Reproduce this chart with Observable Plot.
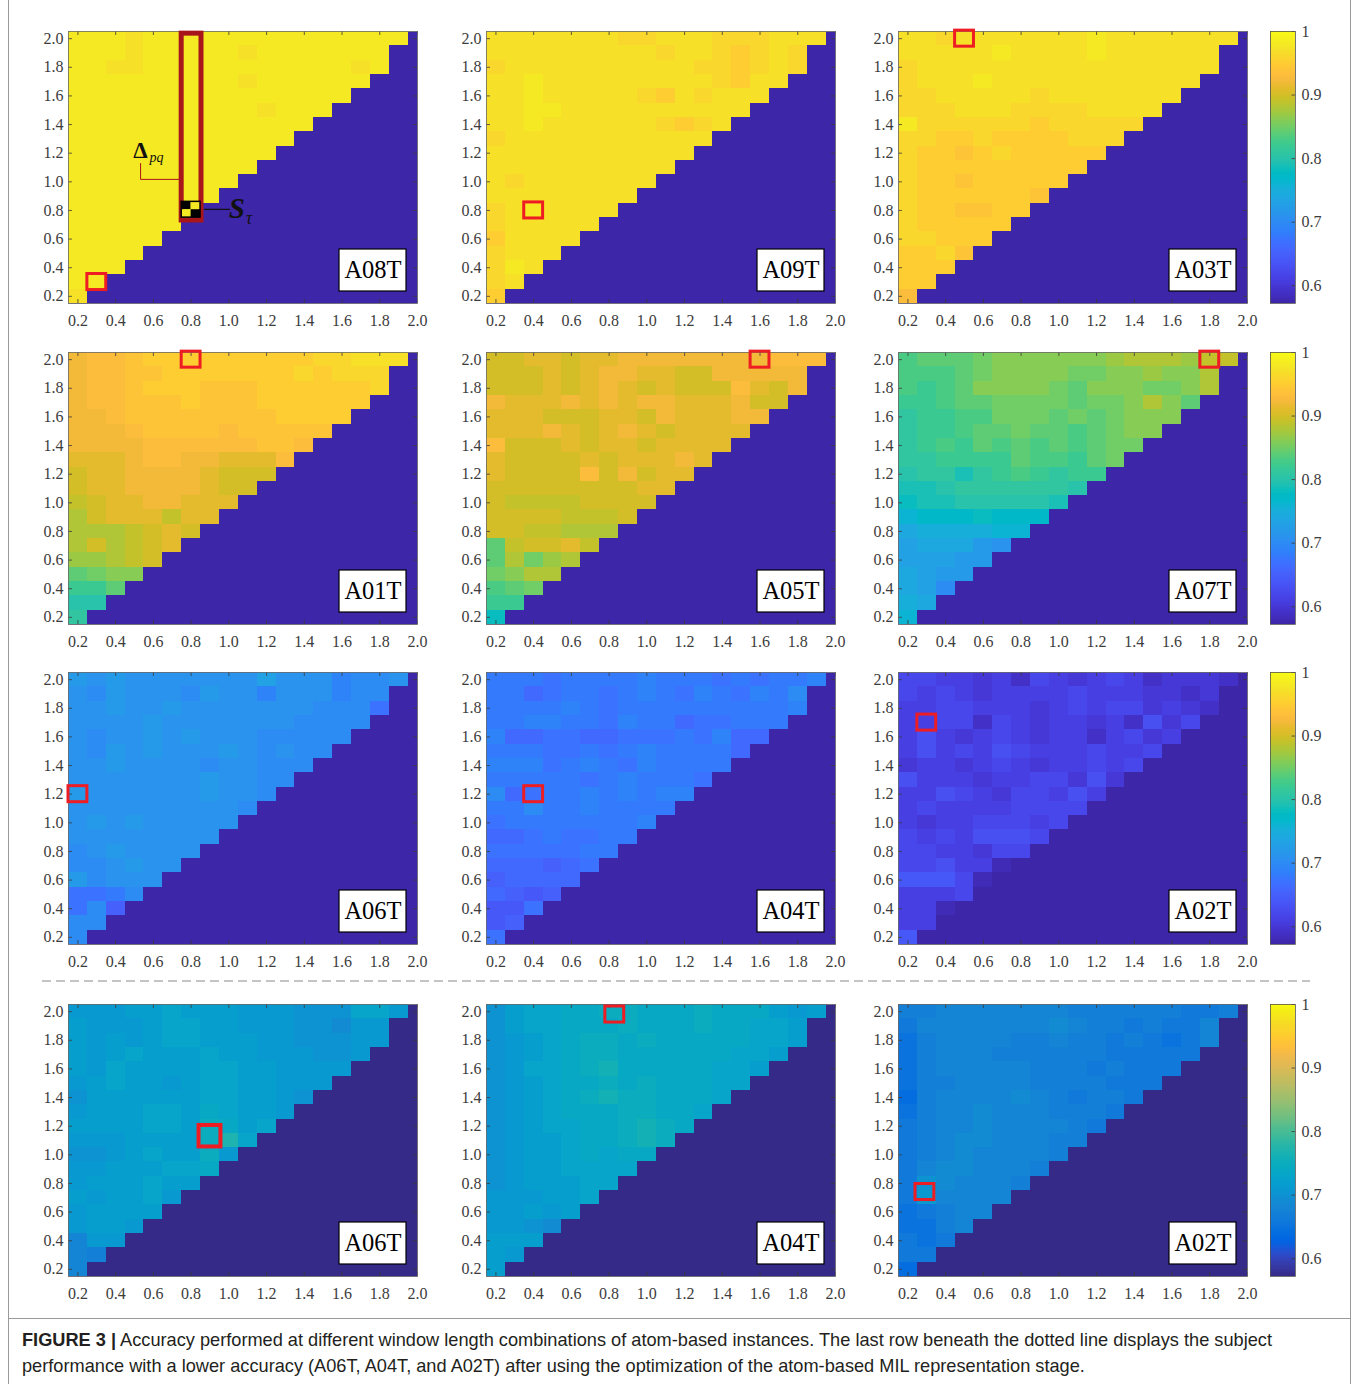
<!DOCTYPE html>
<html><head><meta charset="utf-8">
<script src="https://cdn.jsdelivr.net/npm/d3@7"></script>
<script src="https://cdn.jsdelivr.net/npm/@observablehq/plot@0.6"></script>
<style>
body{margin:0;background:#fff;}
#fig{position:relative;width:1358px;height:1384px;overflow:hidden;background:#fff;}
#frameL{position:absolute;left:8px;top:0;width:0;height:1384px;border-left:1px solid #9a9a9a;}
#frameR{position:absolute;left:1350px;top:0;width:0;height:1384px;border-left:1px solid #9a9a9a;}
#capTop{position:absolute;left:8px;top:1318px;width:1342px;height:0;border-top:1px solid #9a9a9a;}
#cap{position:absolute;left:22px;top:1327px;font-family:"Liberation Sans",Arial,sans-serif;font-size:18.2px;line-height:26px;color:#231f20;white-space:nowrap;}
</style></head><body>
<div id="fig"><div id="frameL"></div><div id="frameR"></div><div id="capTop"></div>
<svg style="position:absolute;left:0;top:0" width="1358" height="1384"><line x1="42" x2="1310" y1="981" y2="981" stroke="#8a8a8a" stroke-width="1.2" stroke-dasharray="9,5"/></svg>
<div id="cap"><b>FIGURE 3 |</b> Accuracy performed at different window length combinations of atom-based instances. The last row beneath the dotted line displays the subject<br>performance with a lower accuracy (A06T, A04T, and A02T) after using the optimization of the atom-based MIL representation stage.</div>
</div>
<script>
// ---- grid (window lengths) ----
const windowP = [0.2,0.3,0.4,0.5,0.6,0.7,0.8,0.9,1.0,1.1,1.2,1.3,1.4,1.5,1.6,1.7,1.8,1.9,2.0];
const windowQ = [2.0,1.9,1.8,1.7,1.6,1.5,1.4,1.3,1.2,1.1,1.0,0.9,0.8,0.7,0.6,0.5,0.4,0.3,0.2];
const axisTicks = [0.2,0.4,0.6,0.8,1.0,1.2,1.4,1.6,1.8,2.0];
const barTicks = [0.6,0.7,0.8,0.9,1];
const panelNames = ["A08T","A09T","A03T","A01T","A05T","A07T","A06T","A04T","A02T","A06T","A04T","A02T"];
const boxP = [0.3,0.4,0.5,0.8,1.6,1.8,0.2,0.4,0.3,0.9,0.83,0.29];
const boxQ = [0.3,0.8,2.0,2.0,2.0,2.0,1.2,1.2,1.7,1.13,1.98,0.74];

// ---- accuracy (%) rows from q=2.0 (top) down to q=0.2 ----
const acc_A08T = [
[98,98,98,97,98,98,98,98,98,98,98,98,98,98,98,98,98,98],
[98,98,98,97,98,98,98,98,98,97,98,98,98,98,98,98,98],
[98,98,97,97,98,98,98,98,98,98,98,98,98,98,98,97,98],
[98,98,98,98,98,98,98,98,98,97,98,98,98,98,98,98],
[98,98,98,98,98,98,98,98,98,98,98,98,98,98,98],
[98,98,98,98,98,98,98,98,98,98,97,98,98,98],
[98,98,98,98,98,98,98,98,98,98,98,98,98],
[98,98,98,98,98,98,98,98,98,98,98,98],
[98,98,98,98,98,98,98,98,98,98,98],
[98,98,98,98,98,98,98,98,98,98],
[98,98,98,98,98,98,98,98,98],
[98,98,98,98,98,98,98,98],
[98,98,98,98,98,98,98],
[98,98,98,98,98,98],
[98,98,98,98,98],
[98,98,98,98],
[98,98,98],
[98,98],
[97]];
const acc_A09T = [
[97,97,97,97,97,97,97,96,96,97,97,97,96,96,96,97,97,97],
[97,97,97,97,97,97,97,97,97,96,97,97,96,95,96,97,96],
[96,97,97,97,97,97,97,97,97,97,97,96,96,95,96,97,96],
[97,97,98,97,97,97,97,97,97,97,97,97,96,95,97,97],
[97,97,98,97,97,97,97,97,96,95,97,96,97,97,97],
[97,97,98,98,97,97,97,97,97,97,97,97,97,97],
[97,97,98,97,97,97,97,97,97,96,95,96,97],
[96,97,97,97,97,97,97,97,97,97,97,97],
[97,97,97,97,97,97,97,97,97,97,97],
[97,97,97,97,97,97,97,97,97,97],
[97,96,97,97,97,97,97,97,97],
[97,97,97,97,97,97,97,97],
[96,97,98,97,97,97,97],
[96,97,97,97,97,97],
[95,97,97,97,97],
[96,97,97,97],
[96,98,97],
[96,97],
[95]];
const acc_A03T = [
[97,97,96,97,97,97,97,97,97,97,98,97,97,97,97,97,97,97],
[97,97,97,97,97,98,97,97,97,97,98,97,97,97,97,97,97],
[96,97,97,97,97,97,97,97,97,97,97,97,97,97,97,97,97],
[96,97,97,97,98,97,97,97,97,97,97,97,97,97,97,97],
[96,96,97,97,97,97,97,96,97,97,97,97,97,97,97],
[96,96,96,97,97,97,96,96,96,96,97,97,97,97],
[98,96,96,96,96,96,96,95,96,96,96,96,96],
[96,96,95,95,96,95,95,95,95,96,96,96],
[96,95,95,94,95,96,95,95,95,95,95],
[96,95,95,95,95,95,95,95,95,95],
[96,95,95,94,95,95,95,95,95],
[96,95,95,95,95,95,95,94],
[96,95,95,94,94,95,95],
[96,95,95,95,95,95],
[96,96,95,95,95],
[95,95,96,94],
[95,95,95],
[95,95],
[93]];
const acc_A01T = [
[92,93,93,94,95,95,95,95,95,95,95,95,95,96,96,97,97,97],
[92,93,93,94,94,95,95,95,95,95,95,95,96,95,96,96,96],
[92,93,93,94,95,95,95,94,94,94,95,95,95,95,95,95,96],
[92,93,93,94,94,94,95,94,94,94,95,95,95,95,95,95],
[92,92,93,94,94,94,94,94,94,94,94,95,95,95,95],
[92,92,92,93,94,94,94,94,93,94,94,94,94,94],
[92,92,92,92,93,93,93,93,93,93,94,94,93],
[91,91,91,92,93,93,92,92,91,91,91,93],
[90,91,91,92,92,92,92,91,90,90,90],
[90,91,91,92,92,92,92,91,90,90],
[89,90,91,91,92,92,91,91,91],
[88,90,91,91,91,89,91,91],
[88,88,88,89,90,91,90],
[88,90,88,89,90,91],
[87,87,88,89,90],
[84,85,86,86],
[82,82,84],
[80,80],
[81]];
const acc_A05T = [
[90,90,91,91,90,91,91,92,92,92,92,92,92,92,92,93,93,93],
[90,90,90,91,90,91,92,92,91,91,90,90,92,92,92,92,92],
[90,90,90,91,90,91,92,91,90,91,90,90,90,93,91,90,92],
[92,91,91,91,92,91,92,91,92,92,91,91,91,92,90,90],
[91,91,91,90,90,90,91,91,90,92,91,91,91,92,92],
[91,91,91,92,91,90,91,92,91,90,91,91,91,91],
[93,90,90,90,91,90,91,91,90,91,91,91,91],
[91,90,90,90,90,91,90,91,91,91,92,91],
[91,90,90,90,90,93,90,92,90,91,91],
[90,90,90,90,90,90,90,90,91,91],
[90,89,89,89,89,90,90,90,90],
[90,90,90,90,89,89,89,90],
[90,90,89,89,88,88,88],
[84,89,90,90,91,89],
[84,88,85,87,88],
[85,86,88,88],
[83,84,85],
[82,82],
[78]];
const acc_A07T = [
[83,84,84,84,85,86,86,86,86,86,86,87,88,88,88,87,89,89],
[83,83,83,84,85,86,86,86,86,85,85,86,86,87,86,86,88],
[83,82,83,84,86,86,86,86,85,84,86,86,86,85,85,86,88],
[82,82,83,84,84,85,85,85,85,84,85,85,86,88,86,84],
[81,82,82,83,83,85,85,85,84,85,84,85,86,86,86],
[81,82,82,83,84,84,85,84,84,83,84,85,86,86],
[81,82,83,82,84,83,84,83,84,83,84,85,85],
[81,81,82,82,82,82,84,83,83,82,84,85],
[80,81,81,79,81,82,83,82,81,82,82],
[79,79,80,81,81,81,81,81,81,80],
[78,79,79,80,80,80,80,80,79],
[76,77,77,77,78,77,77,77],
[74,75,75,75,75,76,76],
[73,74,74,74,72,71],
[73,73,73,72,72],
[74,73,72,72],
[74,73,70],
[75,74],
[76]];
const acc_A06T = [
[72,71,72,71,71,71,71,71,71,71,73,71,71,71,69,70,70,71],
[71,70,72,71,71,71,70,72,71,71,69,71,71,71,69,70,70],
[71,71,72,71,71,72,71,71,71,71,71,71,71,70,70,70,67],
[71,71,71,71,72,71,71,71,71,71,71,71,70,70,70,70],
[71,70,71,71,72,71,72,71,71,71,70,70,70,70,70],
[71,70,72,71,72,71,71,71,72,71,70,71,70,70],
[71,71,72,71,71,71,71,70,71,71,70,70,70],
[71,71,71,71,71,71,71,72,71,71,70,70],
[72,71,71,71,71,71,71,72,71,71,70],
[71,71,71,71,71,71,71,71,71,70],
[71,72,71,72,71,71,71,71,71],
[71,71,71,71,71,71,71,71],
[70,71,72,71,71,71,71],
[70,70,71,72,71,71],
[72,70,71,71,71],
[67,67,68,70],
[67,70,65],
[70,70],
[70]];
const acc_A04T = [
[68,68,68,67,68,68,68,68,69,68,68,68,67,68,67,68,68,69],
[68,68,66,67,68,68,67,68,69,68,67,69,68,67,69,68,70],
[68,68,68,68,69,68,67,68,68,68,68,68,68,68,68,68,69],
[68,68,69,69,68,68,67,69,68,68,66,67,67,68,68,68],
[69,66,66,67,67,66,66,67,67,67,68,67,69,66,66],
[68,68,68,67,67,68,67,68,69,68,68,68,68,66],
[69,69,69,67,68,69,68,67,69,68,68,68,68],
[68,68,68,68,68,67,68,69,68,68,68,67],
[70,66,67,68,68,69,68,69,68,69,69],
[68,68,70,68,68,69,68,68,68,68],
[67,68,68,68,68,68,68,68,69],
[66,66,67,68,67,67,68,68],
[67,67,67,67,67,68,68],
[66,66,66,65,66,67],
[65,66,66,66,66],
[66,65,64,65],
[64,64,67],
[64,65],
[67]];
const acc_A02T = [
[62,62,61,61,60,61,59,62,61,60,61,62,61,59,60,60,60,59],
[62,61,62,61,60,61,61,61,61,62,61,61,61,60,60,59,60],
[61,61,62,62,61,61,61,60,61,62,61,62,62,60,61,60,59],
[61,61,62,62,59,62,61,60,61,61,60,61,59,63,60,62],
[61,63,61,60,61,62,61,60,61,61,59,61,62,60,61],
[61,63,61,62,61,63,62,61,61,61,62,61,61,62],
[60,61,61,60,61,62,61,60,61,61,62,61,62],
[63,61,61,61,60,61,61,62,62,60,63,60],
[61,61,63,62,61,60,62,62,61,63,61],
[61,62,61,61,61,61,62,62,62,62],
[61,60,61,61,62,62,62,61,62],
[62,61,62,61,63,63,63,62],
[62,62,61,61,60,62,62],
[62,62,63,61,61,58],
[64,64,64,62,58],
[61,61,61,62],
[61,61,58],
[61,61],
[64]];
const acc_A06T_opt = [
[71,71,71,72,72,73,72,72,72,71,71,71,70,70,70,73,73,71],
[72,71,71,71,72,73,73,72,72,71,71,71,70,70,69,71,71],
[72,71,72,71,72,73,73,72,72,72,71,71,70,70,70,71,71],
[72,71,72,73,72,72,72,73,72,72,71,71,71,70,70,71],
[72,71,73,72,72,72,72,73,73,72,72,71,71,71,71],
[71,72,73,72,72,71,72,73,73,72,72,71,71,71],
[70,72,72,72,72,72,72,73,73,72,72,71,70],
[71,72,72,72,73,73,72,74,73,72,72,71],
[72,72,72,72,73,73,72,75,74,72,73],
[71,71,71,72,72,72,72,75,77,73],
[70,70,71,72,73,72,72,75,71],
[71,71,72,72,72,73,73,74],
[71,72,72,72,73,72,72],
[72,71,72,72,73,71],
[71,72,72,72,72],
[71,72,72,71],
[68,71,71],
[68,67],
[68]];
const acc_A04T_opt = [
[70,72,73,73,74,74,75,75,74,74,74,75,74,74,74,72,71,72],
[70,72,73,73,74,74,74,75,74,74,74,75,74,74,73,73,72],
[70,71,72,73,74,75,75,74,75,74,74,74,74,74,73,73,72],
[70,71,72,73,74,75,75,74,74,74,74,74,74,73,73,72],
[70,71,73,73,74,75,76,74,74,74,74,74,73,73,72],
[70,71,72,73,74,74,75,74,75,74,74,74,73,73],
[70,71,72,73,74,75,76,75,75,74,74,74,73],
[70,71,72,73,74,74,74,75,75,74,74,73],
[70,71,72,73,73,74,74,75,76,75,74],
[70,71,72,72,73,74,74,75,76,75],
[70,71,72,72,73,74,73,74,74],
[70,71,72,72,73,73,73,73],
[70,71,72,72,72,73,73],
[71,71,71,72,72,73],
[71,71,72,71,72],
[71,71,70,69],
[72,72,72],
[72,71],
[72]];
const acc_A02T_opt = [
[67,67,68,68,68,68,68,68,68,67,67,67,67,67,67,66,66,67],
[66,68,68,68,68,68,68,68,69,68,67,67,66,67,66,66,68],
[65,67,68,68,68,68,67,67,68,67,67,66,67,66,65,66,68],
[65,67,68,68,68,67,67,67,67,67,67,66,66,66,66,66],
[65,67,68,68,68,68,68,67,67,67,66,67,66,66,66],
[65,67,67,68,68,68,68,67,67,67,67,66,66,66],
[64,67,68,68,68,68,69,68,67,66,67,67,66],
[65,67,68,68,69,68,68,68,67,67,67,66],
[66,67,68,68,69,68,68,68,68,67,66],
[66,67,68,69,69,68,68,68,67,67],
[66,67,68,69,68,68,68,68,67],
[66,68,69,69,68,68,68,67],
[66,70,69,68,68,68,67],
[66,71,68,68,68,68],
[65,66,67,68,68],
[65,65,67,68],
[66,65,66],
[66,66],
[64]];
const panelData = [acc_A08T,acc_A09T,acc_A03T,acc_A01T,acc_A05T,acc_A07T,acc_A06T,acc_A04T,acc_A02T,acc_A06T_opt,acc_A04T_opt,acc_A02T_opt];

// ---- A08T annotation (data units) ----
const deltaLeaderP = [0.532,0.532,0.739], deltaLeaderQ = [1.128,1.017,1.017];
const stLeaderP = [0.871,1.004], stLeaderQ = [0.807,0.807];
const colBoxP = [0.75,0.855], colBoxQ = [0.73,2.035];
const checkP = [0.75,0.80,0.85], checkQ = [0.75,0.805,0.86];

// ---- colormaps (MATLAB parula, old & new) ----
const parulaOld = ["#3e26a8","#402ab4","#422ec0","#4332cb","#4537d5","#463cde","#4741e5","#4747eb","#484df0","#4852f4","#4758f8","#465efb","#4563fd","#4269fe","#3e6fff","#3875fe","#327cfc","#2f81fa","#2e87f7","#2d8cf3","#2b91ef","#2796eb","#259be8","#23a0e5","#20a5e3","#1ca9df","#18addb","#12b1d6","#08b5d0","#01b8ca","#02bac3","#0bbdbd","#19bfb6","#24c1ae","#2cc4a7","#31c69f","#37c897","#3fca8e","#4acb84","#57cc7a","#64cd6f","#72cd64","#81cc59","#8fcb4e","#9dc943","#abc739","#b9c431","#c5c22a","#d1bf27","#dcbd29","#e6bb2d","#f0ba36","#f8ba3d","#febe3c","#fec338","#fec934","#fccf30","#fad62d","#f7dc2a","#f5e327","#f5e924","#f6ef20","#f7f51b","#f9fb15"];
const parulaNew = ["#352a87","#363093","#3637a0","#353dad","#3243ba","#2c4ac7","#2053d4","#0f5cdd","#0363e1","#0268e1","#046de0","#0871de","#0d75dc","#1079da","#127dd8","#1481d6","#1485d4","#1389d3","#108ed2","#0c93d2","#0998d1","#079ccf","#06a0cd","#06a4ca","#06a7c6","#07a9c2","#0aacbe","#0faeb9","#15b1b4","#1db3af","#25b5a9","#2eb7a4","#38b99e","#42bb98","#4dbc92","#59bd8c","#65be86","#71bf80","#7cbf7b","#87bf77","#92bf73","#9cbf6f","#a5be6b","#aebe67","#b7bd64","#c0bc60","#c8bc5d","#d1bb59","#d9ba56","#e1b952","#e9b94e","#f1b94a","#f8bb44","#fdbe3d","#ffc337","#fec832","#fcce2e","#fad32a","#f7d826","#f5de21","#f5e41d","#f5eb18","#f6f313","#f9fb0e"];
const accMin = 0.572, accMax = 1.0;

// ---- layout ----
const colLeft = [68, 486, 898];
const rowTop = [31, 352, 672, 1004];
const FW = 349, FH = 272;
const barLeft = 1270, barW = 25;
const fig = document.getElementById("fig");
const serif = '"Liberation Serif","Times New Roman",serif';
const tickColor = "#3a3a3a";
const labelColor = "#3c3c3c";

function colorScale(cmap){
  return {type:"linear", domain:[accMin, accMax], interpolate: d3.piecewise(d3.interpolateRgb, cmap), clamp:true};
}

function drawPanel(k){
  const r = Math.floor(k/3), c = k%3;
  const cmap = r === 3 ? parulaNew : parulaOld;
  const cells = [];
  panelData[k].forEach((row,i)=>row.forEach((v,j)=>cells.push({p:windowP[j], q:windowQ[i], acc:v/100})));
  const mL=46, mR=12, mT=10, mB=34;
  const big = k === 9;
  const hw = big ? 0.058 : 0.05, hh = big ? 0.075 : 0.056;
  const marks = [
    Plot.frame({fill: cmap[0]}),
    Plot.rect(cells, {x1:d=>d.p-0.05, x2:d=>d.p+0.05, y1:d=>d.q-0.05, y2:d=>d.q+0.05, fill:"acc", shapeRendering:"crispEdges"}),
    Plot.ruleX(axisTicks, {x:d=>d, y1:()=>0.15, y2:()=>0.15+0.028, stroke:tickColor, strokeWidth:0.8}),
    Plot.ruleX(axisTicks, {x:d=>d, y1:()=>2.05, y2:()=>2.05-0.028, stroke:tickColor, strokeWidth:0.8}),
    Plot.ruleY(axisTicks, {y:d=>d, x1:()=>0.15, x2:()=>0.15+0.021, stroke:tickColor, strokeWidth:0.8}),
    Plot.ruleY(axisTicks, {y:d=>d, x1:()=>2.0, x2:()=>2.0-0.021, stroke:tickColor, strokeWidth:0.8}),
    Plot.frame({stroke:"#6a6a6a", strokeWidth:0.8}),
    Plot.axisX(axisTicks, {tickSize:0, tickPadding:11, tickFormat:d=>d.toFixed(1), label:null, fill:labelColor, fontFamily:serif, fontSize:16}),
    Plot.axisY(axisTicks, {tickSize:0, tickPadding:5, tickFormat:d=>d.toFixed(1), label:null, fill:labelColor, fontFamily:serif, fontSize:16})
  ];
  if (k === 0) {
    const yellow = d3.piecewise(d3.interpolateRgb, cmap)((0.98-accMin)/(accMax-accMin));
    marks.push(
      Plot.rect([0], {x1:()=>colBoxP[0], x2:()=>colBoxP[1], y1:()=>colBoxQ[0], y2:()=>colBoxQ[1], fill:"none", stroke:"#a8151b", strokeWidth:5}),
      Plot.rect([[0,1,"#000"],[1,1,yellow],[0,0,yellow],[1,0,"#000"]], {x1:d=>checkP[d[0]], x2:d=>checkP[d[0]+1], y1:d=>checkQ[d[1]], y2:d=>checkQ[d[1]+1], fill:d=>d[2]}),
      Plot.rect([0], {x1:()=>checkP[0], x2:()=>checkP[2], y1:()=>checkQ[0], y2:()=>checkQ[2], fill:"none", stroke:"#000", strokeWidth:1.5}),
      Plot.line([0,1,2], {x:i=>deltaLeaderP[i], y:i=>deltaLeaderQ[i], stroke:"#a8151b", strokeWidth:1}),
      Plot.line([0,1], {x:i=>stLeaderP[i], y:i=>stLeaderQ[i], stroke:"#111", strokeWidth:1.3}),
      Plot.text(["Δ"], {x:()=>0.532, y:()=>1.216, text:d=>d, fontSize:23, fontWeight:"bold", textAnchor:"middle", fill:"#111", fontFamily:serif}),
      Plot.text(["pq"], {x:()=>0.58, y:()=>1.17, text:d=>d, fontSize:14, fontStyle:"italic", textAnchor:"start", fill:"#111", fontFamily:serif}),
      Plot.text(["S"], {x:()=>1.0, y:()=>0.81, text:d=>d, fontSize:29, fontWeight:"bold", fontStyle:"italic", textAnchor:"start", fill:"#111", fontFamily:serif}),
      Plot.text(["τ"], {x:()=>1.09, y:()=>0.745, text:d=>d, fontSize:18, fontStyle:"italic", textAnchor:"start", fill:"#111", fontFamily:serif})
    );
  }
  marks.push(
    Plot.rect([0], {x1:()=>boxP[k]-hw, x2:()=>boxP[k]+hw, y1:()=>boxQ[k]-hh, y2:()=>boxQ[k]+hh, fill:"none", stroke:"#ee1d24", strokeWidth: big ? 4 : 3}),
    Plot.text([panelNames[k]], {frameAnchor:"bottom-right", text:d=>d, dx:-(11+33.5), dy:-(12+21), textAnchor:"middle", lineAnchor:"middle", fontSize:24.5, fill:"#000", fontFamily:serif})
  );
  const svg = Plot.plot({
    width: FW+mL+mR, height: FH+mT+mB,
    marginLeft:mL, marginRight:mR, marginTop:mT, marginBottom:mB,
    x:{domain:[0.15,2.0], label:null},
    y:{domain:[0.15,2.05], label:null},
    color: colorScale(cmap),
    style:{background:"transparent", fontFamily:serif, fontSize:"16px", color:labelColor, overflow:"visible"},
    marks
  });
  svg.style.position = "absolute";
  svg.style.left = (colLeft[c]-mL)+"px";
  svg.style.top = (rowTop[r]-mT)+"px";
  svg.style.fontFamily = serif;
  fig.appendChild(svg);
  // white tag box behind the panel name
  const groups = svg.querySelectorAll('g[aria-label="text"]');
  const tg = groups[groups.length-1];
  const rect = document.createElementNS("http://www.w3.org/2000/svg","rect");
  rect.setAttribute("x", mL+FW-11-67); rect.setAttribute("y", mT+FH-12-42);
  rect.setAttribute("width", 67); rect.setAttribute("height", 42);
  rect.setAttribute("fill", "#fff"); rect.setAttribute("stroke", "#000"); rect.setAttribute("stroke-width", 1.2);
  tg.parentNode.insertBefore(rect, tg);
}

function drawBar(r){
  const cmap = r === 3 ? parulaNew : parulaOld;
  const n = 256, st = (accMax-accMin)/n;
  const strips = d3.range(n).map(i=>({v0:accMin+i*st, v1:accMin+(i+1)*st}));
  const mL=2, mR=40, mT=10, mB=10;
  const svg = Plot.plot({
    width: barW+mL+mR, height: FH+mT+mB,
    marginLeft:mL, marginRight:mR, marginTop:mT, marginBottom:mB,
    x:{domain:[0,1], axis:null},
    y:{domain:[accMin,accMax], label:null},
    color: colorScale(cmap),
    style:{background:"transparent", fontFamily:serif, fontSize:"16px", color:labelColor, overflow:"visible"},
    marks:[
      Plot.rect(strips, {x1:()=>0, x2:()=>1, y1:"v0", y2:"v1", fill:d=>(d.v0+d.v1)/2, shapeRendering:"crispEdges"}),
      Plot.ruleY(barTicks, {y:d=>d, x1:()=>1-0.14, x2:()=>1, stroke:tickColor, strokeWidth:0.8}),
      Plot.frame({stroke:"#555", strokeWidth:0.8}),
      Plot.axisY(barTicks, {anchor:"right", tickSize:0, tickPadding:6, tickFormat:d=>d===1?"1":d.toFixed(1), label:null, fill:labelColor, fontFamily:serif, fontSize:16})
    ]
  });
  svg.style.position = "absolute";
  svg.style.left = (barLeft-mL)+"px";
  svg.style.top = (rowTop[r]-mT)+"px";
  svg.style.fontFamily = serif;
  fig.appendChild(svg);
}

for (let k = 0; k < 12; k++) drawPanel(k);
for (let r = 0; r < 4; r++) drawBar(r);
</script>
</body></html>
